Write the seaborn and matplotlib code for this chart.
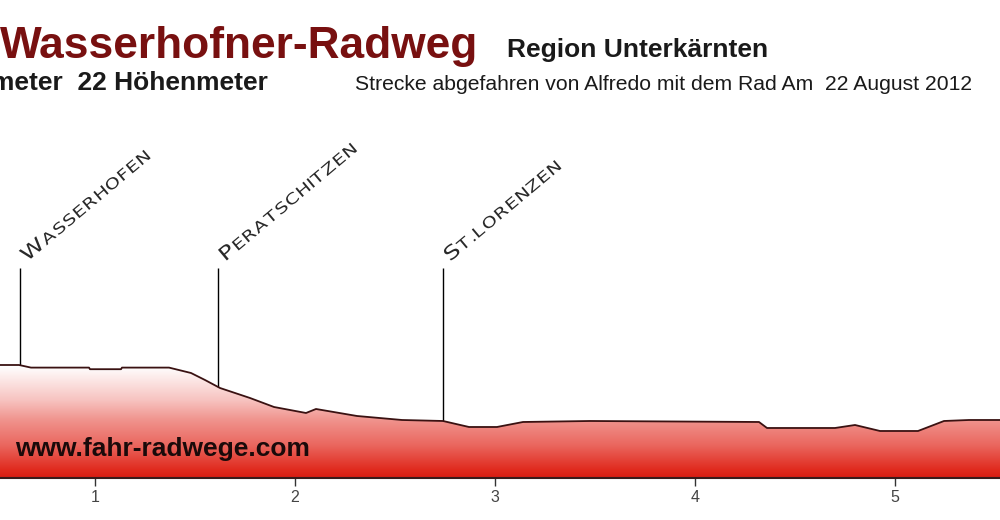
import matplotlib
matplotlib.use('Agg')
import numpy as np
import pandas as pd
import matplotlib.pyplot as plt
import seaborn as sns
from matplotlib.colors import LinearSegmentedColormap
from matplotlib.textpath import TextPath
from matplotlib.patches import PathPatch
from matplotlib.font_manager import FontProperties
import matplotlib.transforms as mtransforms

# Höhenprofil: Kilometer / Meter
km = [0.0, 0.3, 0.525, 0.62, 0.68, 0.97, 0.975, 1.13, 1.135, 1.37, 1.48, 1.55,
      1.625, 1.775, 1.895, 2.055, 2.105, 2.31, 2.535, 2.74, 2.87, 3.01, 3.14,
      3.475, 4.32, 4.36, 4.7, 4.8, 4.925, 5.115, 5.245, 5.37, 5.525]
hoehe = [478.0, 478.25, 478.25, 478.25, 477.6, 477.6, 477.2, 477.2, 477.6, 477.6,
         476.25, 474.5, 472.5, 470.0, 467.75, 466.25, 467.25, 465.5, 464.5, 464.25,
         462.75, 462.75, 464.0, 464.25, 464.0, 462.5, 462.5, 463.25, 461.75, 461.75,
         464.25, 464.5, 464.5]

orte = ["Kühnsdorf", "Wasserhofen", "Peratschitzen", "St.Lorenzen"]
orte_km = [0.0, 0.625, 1.615, 2.74]

ticks = [1, 2, 3, 4, 5]

df = pd.DataFrame({"km": km, "hoehe": hoehe})

sns.set_style("white")
plt.rcParams['font.family'] = ['Liberation Sans', 'DejaVu Sans']

fig = plt.figure(figsize=(10, 5.2), dpi=100)
ax = fig.add_axes([-0.105, 0.0808, 1.105, 0.4038])
ymin, ymax = 450, 502.5
ax.set_xlim(0, 5.525)
ax.set_ylim(ymin, ymax)

# Verlauf weiss -> rot
cmap = LinearSegmentedColormap.from_list("rad", [
    (0.0, '#d81c12'), (0.0714, '#e02a1e'), (0.295, '#ea675f'),
    (0.518, '#f0938d'), (0.696, '#f7c3c0'), (1.0, '#ffffff')])
grad = np.linspace(0, 1, 256).reshape(-1, 1)
im = ax.imshow(grad, extent=[0, 5.525, 450, 478], origin='lower',
               aspect='auto', cmap=cmap, zorder=1)
poly = ax.fill_between(df["km"], df["hoehe"], ymin, facecolor='none', edgecolor='none')
im.set_clip_path(poly.get_paths()[0], transform=ax.transData)

sns.lineplot(data=df, x="km", y="hoehe", ax=ax, color='#3a1212', lw=1.3, zorder=3)

# Orte (Kapitälchen, breit gezogen)
orte_h = np.interp(orte_km, km, hoehe)
ax.vlines(orte_km, orte_h, ymax, color='black', lw=1, zorder=2)
fp = FontProperties(family='DejaVu Sans')
for name, x in zip(orte, orte_km):
    x0, y0 = ax.transData.transform((x, ymax))
    rot = mtransforms.Affine2D().scale(1.3, 1).rotate_deg(40).translate(x0 + 7, y0 + 6)
    big = TextPath((0, 0), name[0].upper(), size=19, prop=fp)
    w = big.get_extents().x1 + 1.5
    pieces = [big]
    for ch in name[1:].upper():
        p = TextPath((w, 0), ch, size=15, prop=fp)
        pieces.append(p)
        w = max(p.get_extents().x1, w + 3) + 1.3
    for p in pieces:
        fig.add_artist(PathPatch(p, transform=rot, facecolor='#2a2a2a',
                                 edgecolor='none'))

ax.text(0.6, 455.5, "www.fahr-radwege.com", fontsize=19, fontweight='bold',
        color='#1a0a0a', zorder=4)

ax.set_xticks(ticks)
ax.set_xticklabels([str(t) for t in ticks])
ax.set_yticks([])
ax.set_xlabel("")
ax.set_ylabel("")
ax.tick_params(axis='x', direction='out', length=6, width=1, color='#333333',
               labelsize=11.5, labelcolor='#444444', pad=3, bottom=True)
for s in ['top', 'left', 'right']:
    ax.spines[s].set_visible(False)
ax.spines['bottom'].set_color('#3a1a1a')
ax.spines['bottom'].set_linewidth(1.5)
ax.patch.set_alpha(0)

# Kopfzeilen
fig.text(0.478, 1 - 58 / 520, "Wasserhofner-Radweg", ha='right', va='baseline',
         fontsize=31.9, fontweight='bold', color='#781010')
fig.text(0.507, 1 - 57 / 520, "Region Unterkärnten", ha='left', va='baseline',
         fontsize=19, fontweight='bold', color='#1a1a1a')
fig.text(0.268, 1 - 90 / 520, "6 Kilometer  22 Höhenmeter", ha='right', va='baseline',
         fontsize=19, fontweight='bold', color='#1a1a1a')
fig.text(0.972, 1 - 90 / 520, "Strecke abgefahren von Alfredo mit dem Rad Am  22 August 2012",
         ha='right', va='baseline', fontsize=15.2, color='#1a1a1a')

fig.savefig("out.png", dpi=100)
